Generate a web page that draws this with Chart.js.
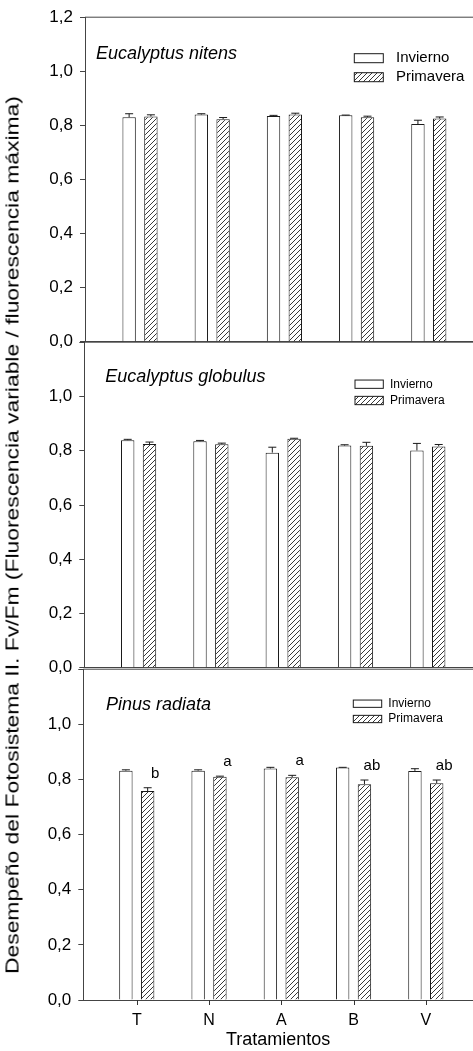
<!DOCTYPE html>
<html><head><meta charset="utf-8">
<script src="https://cdn.jsdelivr.net/npm/chart.js@4/dist/chart.umd.min.js"></script>
<style>
html,body{margin:0;padding:0;background:#fff;overflow:hidden;width:473px;height:1051px;position:relative;}
.panel{position:absolute;left:0;width:473px;}
#ytitle{position:absolute;left:13px;top:535px;font-family:"Liberation Sans",Arial,sans-serif;font-size:18px;color:#000;white-space:nowrap;transform:translate(-50%,-50%) rotate(-90deg) scaleX(1.27);}
</style></head><body>
<div class="panel" style="top:0;height:360px"><canvas id="c1"></canvas></div>
<div class="panel" style="top:325px;height:360px"><canvas id="c2"></canvas></div>
<div class="panel" style="top:650px;height:401px"><canvas id="c3"></canvas></div>
<div id="ytitle">Desempeño del Fotosistema II. Fv/Fm (Fluorescencia variable / fluorescencia máxima)</div>
<script>
// ---- data ----
const categories = ['T','N','A','B','V'];
const seriesNames = ['Invierno','Primavera'];
const yTicks = [0, 0.2, 0.4, 0.6, 0.8, 1.0, 1.2];
const xTicks = [0, 1, 2, 3, 4];

const nitensInvierno    = [0.830, 0.840, 0.835, 0.837, 0.805];
const nitensInviernoErr = [0.013, 0.003, 0.002, 0.001, 0.014];
const nitensPrimavera    = [0.833, 0.823, 0.840, 0.830, 0.825];
const nitensPrimaveraErr = [0.006, 0.006, 0.005, 0.004, 0.006];

const globulusInvierno    = [0.839, 0.835, 0.793, 0.819, 0.801];
const globulusInviernoErr = [0.003, 0.003, 0.020, 0.003, 0.026];
const globulusPrimavera    = [0.825, 0.824, 0.844, 0.818, 0.816];
const globulusPrimaveraErr = [0.007, 0.004, 0.002, 0.013, 0.007];

const radiataInvierno    = [0.832, 0.832, 0.840, 0.843, 0.831];
const radiataInviernoErr = [0.003, 0.003, 0.004, 0.001, 0.008];
const radiataPrimavera    = [0.758, 0.810, 0.808, 0.783, 0.786];
const radiataPrimaveraErr = [0.012, 0.002, 0.007, 0.015, 0.012];
const radiataLetters = ['b','a','a','ab','ab'];

const FONT = '"Liberation Sans", Arial, sans-serif';
const AXIS = '#444';
const INK = '#1a1a1a';

function makeHatch(){
  const s = 5, c = document.createElement('canvas');
  c.width = s; c.height = s;
  const g = c.getContext('2d');
  g.fillStyle = '#fff'; g.fillRect(0,0,s,s);
  g.strokeStyle = '#222'; g.lineWidth = 0.9;
  g.beginPath();
  g.moveTo(-1, s+1); g.lineTo(s+1, -1);
  g.moveTo(-1, 1); g.lineTo(1, -1);
  g.moveTo(s-1, s+1); g.lineTo(s+1, s-1);
  g.stroke();
  return g.createPattern(c, 'repeat');
}
const hatch = makeHatch();

const errorBars = {
  id: 'errorBars',
  afterDatasetsDraw(chart){
    const ctx = chart.ctx, ys = chart.scales.y;
    chart.data.datasets.forEach((ds, di) => {
      const meta = chart.getDatasetMeta(di);
      meta.data.forEach((bar, i) => {
        const v = ds.data[i].y, e = ds.errors[i];
        const y0 = ys.getPixelForValue(v), y1 = ys.getPixelForValue(v + e);
        ctx.save();
        ctx.strokeStyle = INK; ctx.lineWidth = 1;
        ctx.beginPath();
        ctx.moveTo(bar.x, y0); ctx.lineTo(bar.x, y1);
        ctx.moveTo(bar.x - 4, y1); ctx.lineTo(bar.x + 4, y1);
        ctx.stroke();
        ctx.restore();
      });
    });
  }
};

// top frame line and (bottom panel) x tick marks at the x scale's ticks
const frameTop = {
  id: 'frameTop',
  afterDraw(chart, args, o){
    const {ctx, chartArea} = chart;
    ctx.save(); ctx.strokeStyle = AXIS; ctx.lineWidth = 1;
    ctx.beginPath(); ctx.moveTo(chartArea.left, chartArea.top); ctx.lineTo(chartArea.right, chartArea.top); ctx.stroke();
    if (o.xTickMarks){
      const xs = chart.scales.x;
      ctx.strokeStyle = '#333';
      ctx.beginPath();
      xs.ticks.forEach(t => {
        const px = Math.round(xs.getPixelForValue(t.value)) + 0.5;
        ctx.moveTo(px, chartArea.bottom); ctx.lineTo(px, chartArea.bottom + 5);
      });
      ctx.stroke();
    }
    ctx.restore();
  }
};

const panelDecor = {
  id: 'panelDecor',
  afterDraw(chart, args, o){
    const ctx = chart.ctx, ca = chart.chartArea;
    ctx.save();
    ctx.fillStyle = '#000';
    ctx.font = 'italic 18px ' + FONT;
    ctx.textAlign = 'left'; ctx.textBaseline = 'middle';
    ctx.fillText(o.title, ca.left + o.titleDx, ca.top + o.titleDy);
    const L = o.legend;
    chart.data.datasets.forEach((ds, i) => {
      const yc = ca.top + L.dy + i * L.gap;
      ctx.fillStyle = ds.backgroundColor;
      ctx.fillRect(L.x, yc - L.h/2, L.w, L.h);
      ctx.strokeStyle = INK; ctx.lineWidth = 1;
      ctx.strokeRect(L.x, yc - L.h/2, L.w, L.h);
      ctx.fillStyle = '#000';
      ctx.font = L.size + 'px ' + FONT;
      ctx.textAlign = 'left'; ctx.textBaseline = 'middle';
      ctx.fillText(ds.label, L.textX, yc);
    });
    if (o.letters){
      const di = 1, ds = chart.data.datasets[di], meta = chart.getDatasetMeta(di), ys = chart.scales.y;
      ctx.font = '15px ' + FONT; ctx.textAlign = 'center'; ctx.textBaseline = 'middle'; ctx.fillStyle = '#000';
      meta.data.forEach((bar, i) => {
        const top = ys.getPixelForValue(ds.data[i].y + ds.errors[i]);
        ctx.fillText(o.letters[i], bar.x + 7.5, top - 14);
      });
    }
    ctx.restore();
  }
};

function fmt(v){ return v.toFixed(1).replace('.', ','); }

function makeChart(id, inv, invErr, pri, priErr, cfg){
  const toXY = arr => arr.map((v, i) => ({x: i, y: v}));
  return new Chart(document.getElementById(id), {
    type: 'bar',
    data: {
      datasets: [
        {label: seriesNames[0], data: toXY(inv), errors: invErr, backgroundColor: '#ffffff', borderColor: INK, borderWidth: 1},
        {label: seriesNames[1], data: toXY(pri), errors: priErr, backgroundColor: hatch, borderColor: INK, borderWidth: 1}
      ]
    },
    options: {
      responsive: true, maintainAspectRatio: false, animation: false,
      categoryPercentage: 0.603, barPercentage: 0.615,
      layout: {padding: {top: cfg.padTop, bottom: cfg.padBottom, left: 0, right: 0}},
      plugins: {legend: {display: false}, tooltip: {enabled: false},
        frameTop: {xTickMarks: cfg.showX},
        panelDecor: {title: cfg.title, titleDx: cfg.titleDx, titleDy: cfg.titleDy, legend: cfg.legend, letters: cfg.letters}},
      scales: {
        x: {
          type: 'linear', min: cfg.xmin, max: cfg.xmax, offset: false,
          afterBuildTicks: s => { s.ticks = xTicks.map(v => ({value: v})); },
          ticks: {display: cfg.showX, padding: 11, color: '#000',
                  font: {family: FONT, size: 16}, callback: v => categories[v] ?? ''},
          grid: {display: false, drawTicks: false},
          border: {display: true, color: AXIS, width: 1},
          title: {display: cfg.showX, text: 'Tratamientos', color: '#000', font: {family: FONT, size: 18}, padding: 0},
          afterFit: s => { s.height = cfg.xHeight; }
        },
        y: {
          min: 0, max: 1.2,
          afterBuildTicks: s => { s.ticks = yTicks.map(v => ({value: v})); },
          ticks: {padding: 7, color: '#000', font: {family: FONT, size: 17},
                  callback: v => (cfg.hideTop && Math.abs(v - 1.2) < 1e-6) ? '' : fmt(v)},
          grid: {display: true, drawOnChartArea: false, drawTicks: true, tickLength: 5, color: AXIS},
          border: {display: true, color: AXIS, width: 1},
          afterFit: s => { s.width = cfg.left; }
        }
      }
    },
    plugins: [errorBars, frameTop, panelDecor]
  });
}

makeChart('c1', nitensInvierno, nitensInviernoErr, nitensPrimavera, nitensPrimaveraErr, {
  padTop: 15, padBottom: 18.3, left: 85, xmin: -0.762, xmax: 4.612, showX: false, xHeight: 0, hideTop: false,
  title: 'Eucalyptus nitens', titleDx: 11, titleDy: 37,
  legend: {x: 354.3, w: 29, h: 9, dy: 41, gap: 19, textX: 396, size: 15}
});
makeChart('c2', globulusInvierno, globulusInviernoErr, globulusPrimavera, globulusPrimaveraErr, {
  padTop: 15, padBottom: 16, left: 84.3, xmin: -0.751, xmax: 4.625, showX: false, xHeight: 0, hideTop: true,
  title: 'Eucalyptus globulus', titleDx: 21, titleDy: 35,
  legend: {x: 355, w: 28.3, h: 8.3, dy: 42, gap: 16.3, textX: 390, size: 12}
});
makeChart('c3', radiataInvierno, radiataInviernoErr, radiataPrimavera, radiataPrimaveraErr, {
  padTop: 19.2, padBottom: 0, left: 83.3, xmin: -0.740, xmax: 4.653, showX: true, xHeight: 51, hideTop: true,
  title: 'Pinus radiata', titleDx: 22.7, titleDy: 36,
  legend: {x: 353.3, w: 28.4, h: 7.3, dy: 34.5, gap: 15.3, textX: 388.3, size: 12},
  letters: radiataLetters
});
</script>
</body></html>
